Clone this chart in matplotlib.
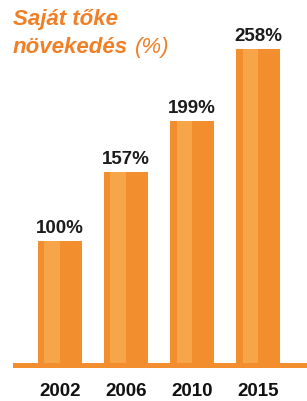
import matplotlib
matplotlib.use("Agg")
import matplotlib.pyplot as plt

years = ['2002', '2006', '2010', '2015']
values = [100, 157, 199, 258]
labels = ['100%', '157%', '199%', '258%']

dark = '#F28E2E'
light = '#F6A548'
title_col = '#F07F26'

plt.rcParams['font.family'] = ['Liberation Sans', 'DejaVu Sans']

fig = plt.figure(figsize=(3.07, 4.01), dpi=100)
ax = fig.add_axes([0, 0, 1, 1])
ax.set_xlim(-0.909, 3.742)
ax.set_ylim(-31.2, 298.3)
ax.axis('off')

x = list(range(len(years)))
ax.bar(x, values, width=0.68, color=dark, zorder=2)
ax.bar([i - 0.117 for i in x], values, width=0.236, color=light, zorder=3)

# baseline
ax.axhspan(-4.1, 0, xmin=13 / 307, xmax=1, color=dark, lw=0, zorder=1)

for i, v in enumerate(values):
    ax.text(i, v + 3.5, labels[i], ha='center', va='bottom',
            fontsize=13.5, fontweight='bold', color='#1c1c1c')
    ax.text(i, -23.8, years[i], ha='center', va='center',
            fontsize=13.5, fontweight='bold', color='#111111')

# title, two lines, "(%)" not bold
fig.text(13 / 307, 1 - 25 / 401, 'Saját tőke', ha='left', va='baseline',
         fontsize=16, fontweight='bold', style='italic', color=title_col)
fig.text(13 / 307, 1 - 53 / 401, 'növekedés', ha='left', va='baseline',
         fontsize=16, fontweight='bold', style='italic', color=title_col)
fig.text(135 / 307, 1 - 53 / 401, '(%)', ha='left', va='baseline',
         fontsize=16, style='italic', color=title_col)

fig.savefig('out.png', dpi=100)
